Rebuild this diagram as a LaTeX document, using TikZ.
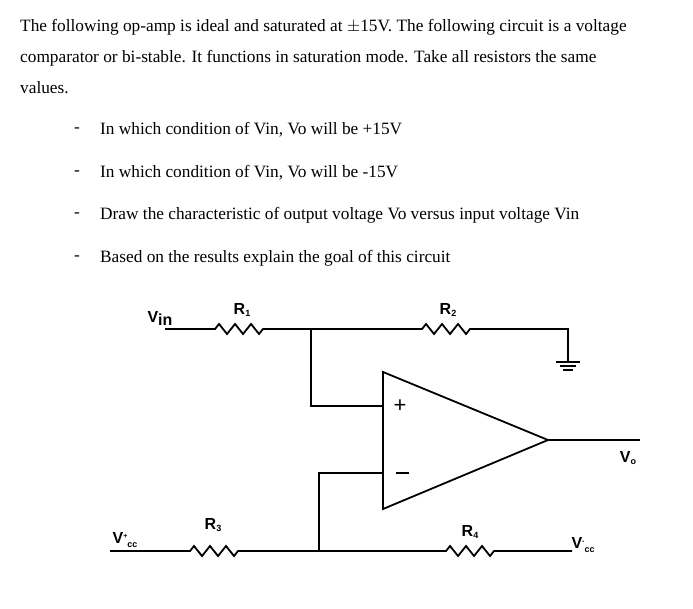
\documentclass[tikz,border=0pt]{standalone}
\usepackage{fontspec}
\setmainfont{Liberation Serif}
\newfontfamily\lsans{Liberation Sans}
\begin{document}
\begin{tikzpicture}[x=1pt,y=-1pt,
  wire/.style={line width=1.8pt,line join=miter},
  txt/.style={anchor=west,inner sep=0pt,font=\fontsize{17.3}{19}\selectfont},
  lab/.style={inner sep=0pt,font=\lsans\bfseries\fontsize{16}{17}\selectfont}]
\useasboundingbox (0,0) rectangle (693,609);
\node[txt] (t1) at (20,27) {The following op-amp is ideal and saturated at $\pm$15V. The following circuit is a voltage};
\node[txt] (t2) at (20,58) {comparator or bi-stable. It functions in saturation mode. Take all resistors the same};
\node[txt] (t3) at (20,88) {values.};
\foreach \y/\s [count=\i] in {130/{In which condition of Vin, Vo will be +15V},173/{In which condition of Vin, Vo will be -15V},215/{Draw the characteristic of output voltage Vo versus input voltage Vin},258/{Based on the results explain the goal of this circuit}}{
  \node[txt] (d\i) at (74,\y) {-};
  \node[txt] (b\i) at (100,\y) {\s};
}
% resistors
\def\res#1#2{-- (#1,#2) -- ++(4,-5) -- ++(8,10) -- ++(8,-10) -- ++(8,10) -- ++(8,-10) -- ++(8,10) -- ++(4,-5)}
\coordinate (vin) at (165,329);
\coordinate (j1) at (311,329);
\coordinate (gnd) at (568,362);
\draw[wire] (vin) \res{215}{329} -- (j1) \res{422}{329} -- (568,329) -- (gnd);
\draw[wire] (556,362) -- (580,362);
\draw[line width=1.2pt] (560,366) -- (576,366) (563,370) -- (573,370);
% opamp
\coordinate (oa) at (383,372);
\draw[wire] (oa) -- (548,440) -- (383,509) -- cycle;
\draw[wire] (j1) -- (311,406) -- (383,406);
\node[inner sep=0pt,font=\lsans\fontsize{22}{22}\selectfont] (plus) at (400,406) {+};
\draw[wire] (396,473) -- (409,473);
\draw[wire] (383,473) -- (319,473) -- (319,551);
\coordinate (jb) at (319,551);
\coordinate (vcp) at (110,551);
\coordinate (vcm) at (572,551);
\draw[wire] (vcp) \res{190}{551} -- (jb) \res{446}{551} -- (vcm);
\coordinate (vo) at (640,440);
\draw[wire] (548,440) -- (vo);
% labels
\node[lab] (lvin) at (160,318) {V\raisebox{-3pt}{in}};
\node[lab] (lr1) at (242,310) {R\raisebox{-2pt}{\small 1}};
\node[lab] (lr2) at (448,310) {R\raisebox{-2pt}{\small 2}};
\node[lab] (lr3) at (213,525) {R\raisebox{-2pt}{\small 3}};
\node[lab] (lr4) at (470,532) {R\raisebox{-2pt}{\small 4}};
\node[lab] (lvo) at (628,458) {V\raisebox{-2pt}{\small o}};
\node[lab] (lvp) at (125,540) {V\raisebox{5pt}{\scriptsize +}\raisebox{-4pt}{\small cc}};
\node[lab] (lvm) at (583,545) {V\raisebox{5pt}{\scriptsize -}\raisebox{-4pt}{\small cc}};
\end{tikzpicture}
\end{document}
